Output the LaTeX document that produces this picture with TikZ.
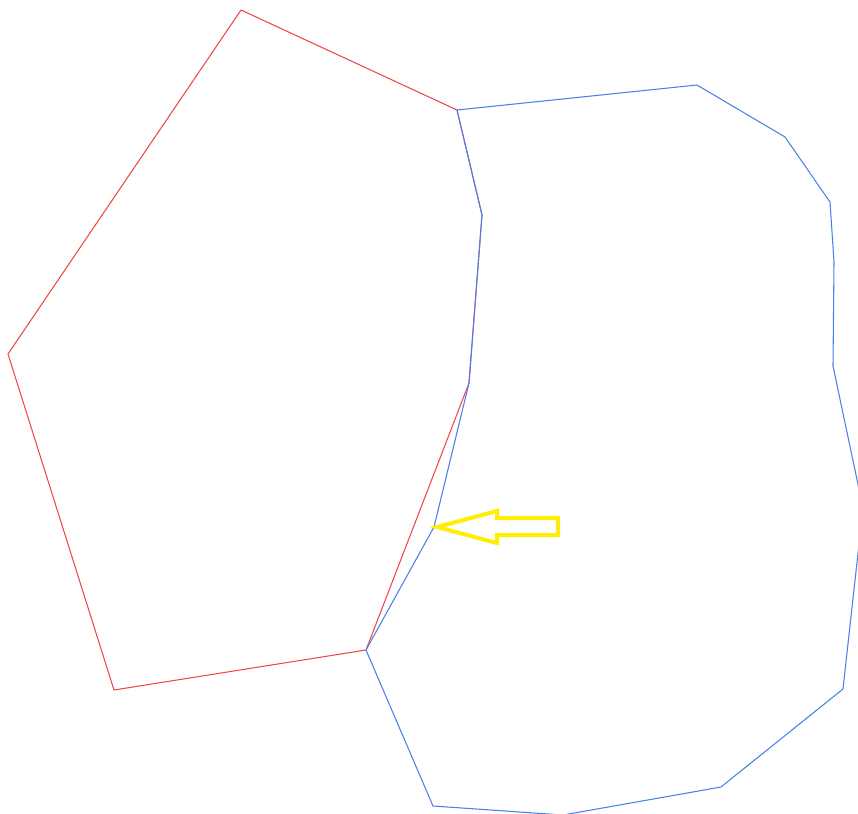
\documentclass[tikz,border=0pt]{standalone}
\usepackage{tikz}
\usetikzlibrary{calc}

\definecolor{cellred}{HTML}{F04848}
\definecolor{cellblue}{HTML}{4A80EA}
\definecolor{markyellow}{HTML}{FFEE00}

\begin{document}
\begin{tikzpicture}[
    x=0.75pt, y=-0.75pt,
    cellA/.style={draw=cellred, line width=0.8pt, line join=round},
    cellB/.style={draw=cellblue, line width=0.8pt, line join=round},
    pointer/.style={draw=markyellow, line width=3pt, line join=miter},
]

\useasboundingbox (0,0) rectangle (858,814);
\clip (0,0) rectangle (858,814);

% ── Shared vertices ──
\coordinate (s1) at (457,110);
\coordinate (s2) at (482,215);
\coordinate (s3) at (469,383);
\coordinate (s4) at (366,650);

% ── Red cell ──
\coordinate (r1) at (241,10);
\coordinate (r2) at (8,354);
\coordinate (r3) at (114,690);
\draw[cellA] (r1) -- (s1) -- (s2) -- (s3) -- (s4) -- (r3) -- (r2) -- cycle;

% ── Blue cell ──
\coordinate (b1) at (697,85);
\coordinate (b2) at (785,137);
\coordinate (b3) at (830,202);
\coordinate (b4) at (834,262);
\coordinate (b5) at (833,366);
\coordinate (b6) at (863,508);
\coordinate (b7) at (843,689);
\coordinate (b8) at (721,787);
\coordinate (b9) at (563,815);
\coordinate (b10) at (433,806);
\coordinate (b11) at (434,527);
\draw[cellB] (s1) -- (b1) -- (b2) -- (b3) -- (b4) -- (b5) -- (b6)
    -- (b7) -- (b8) -- (b9) -- (b10) -- (s4) -- (b11) -- (s3)
    -- (s2) -- cycle;

% ── Marker arrow ──
\coordinate (tip) at (437,527);
\draw[pointer] (tip) -- (497,511) -- (497,518) -- (558,518)
    -- (558,535) -- (497,535) -- (497,543) -- cycle;

\end{tikzpicture}
\end{document}
